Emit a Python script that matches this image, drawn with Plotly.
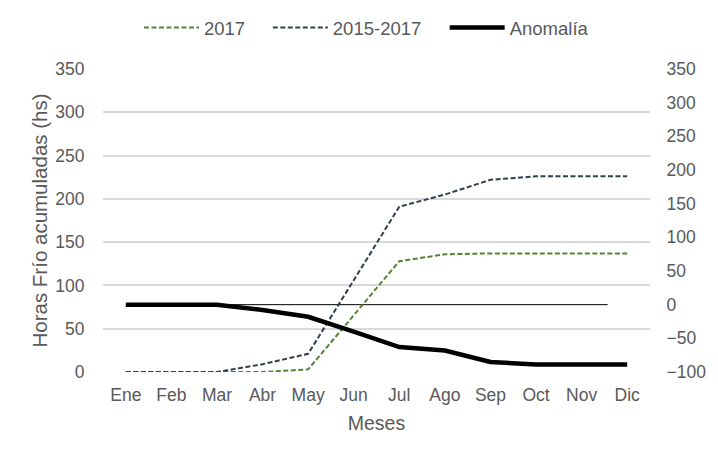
import plotly.graph_objects as go

# Datos
meses = ["Ene", "Feb", "Mar", "Abr", "May", "Jun", "Jul", "Ago", "Sep", "Oct", "Nov", "Dic"]
hf_2017 = [0, 0, 0, 0, 3, 66, 128, 136, 137, 137, 137, 137]
hf_2015_2017 = [0, 0, 0, 9, 21, 106, 191, 205, 222, 226, 226, 226]
anomalia = [0, 0, 0, -8, -18, -40, -63, -68, -85, -89, -89, -89]

gris = "#595959"
fuente = "Liberation Sans, Arial, sans-serif"

fig = go.Figure()

fig.add_trace(go.Scatter(x=meses, y=hf_2017, name="2017", mode="lines", legend="legend",
                         line=dict(color="#548235", width=2, dash="5px,2.5px")))
fig.add_trace(go.Scatter(x=meses, y=hf_2015_2017, name="2015-2017", mode="lines", legend="legend2",
                         line=dict(color="#333F50", width=2, dash="5px,2.5px")))
fig.add_trace(go.Scatter(x=meses, y=anomalia, name="Anomalía", mode="lines", yaxis="y2", legend="legend3",
                         line=dict(color="black", width=4.5)))

# linea de referencia en cero (eje derecho)
fig.add_shape(type="line", xref="x", yref="y2", x0=0, x1=10.57, y0=0, y1=0,
              line=dict(color="black", width=1), layer="below")

# la pagina tiene 8px de margen en el body: se compensa en los margenes
leyenda = dict(orientation="h", xanchor="left", y=1.135, yanchor="middle",
               font=dict(size=18.5, color=gris), itemwidth=55, bgcolor="rgba(0,0,0,0)")

fig.update_layout(
    width=718, height=461,
    margin=dict(l=95, r=76, t=61, b=97, autoexpand=False),
    paper_bgcolor="white", plot_bgcolor="white",
    font=dict(family=fuente, size=17.5, color=gris),
    showlegend=True,
    legend=dict(leyenda, x=0.0658),
    legend2=dict(leyenda, x=0.3013),
    legend3=dict(leyenda, x=0.6246),
    xaxis=dict(range=[-0.5, 11.5], showgrid=False, showline=False, automargin=False,
               ticks="outside", ticklen=7, tickcolor="rgba(0,0,0,0)",
               title=dict(text="Meses", font=dict(size=19.5, color=gris), standoff=12)),
    yaxis=dict(range=[0, 350], dtick=50, showgrid=True, gridcolor="#D9D9D9", gridwidth=1.5,
               zeroline=False, showline=False, automargin=False,
               ticks="outside", ticklen=14, tickcolor="rgba(0,0,0,0)",
               title=dict(text="Horas Frío acumuladas (hs)", font=dict(size=20.5, color=gris), standoff=2)),
    yaxis2=dict(range=[-100, 350], dtick=50, overlaying="y", side="right",
                showgrid=False, zeroline=False, showline=False, automargin=False,
                ticks="outside", ticklen=12, tickcolor="rgba(0,0,0,0)"),
)

fig.write_html("out.html")
